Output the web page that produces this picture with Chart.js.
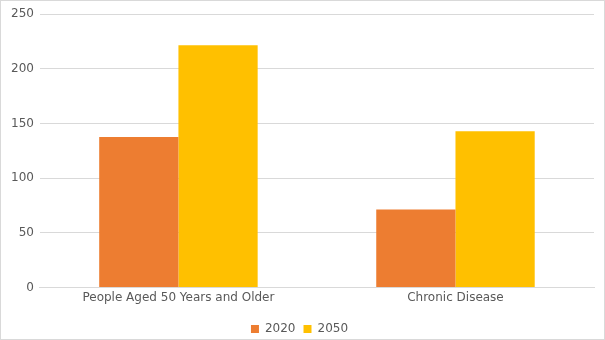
<!DOCTYPE html>
<html>
<head>
<meta charset="utf-8">
<script src="https://cdn.jsdelivr.net/npm/chart.js@4"></script>
<style>
html,body{margin:0;padding:0;background:#fff;}
#wrap{width:605px;height:340px;box-sizing:border-box;border:1px solid #d9d9d9;position:relative;}
</style>
</head>
<body>
<div id="wrap"><canvas id="c"></canvas></div>
<script>
const categories = ["People Aged 50 Years and Older", "Chronic Disease"];
const series2020 = [137.6, 71.4];
const series2050 = [221.6, 142.9];
const yTicks = [0, 50, 100, 150, 200, 250];

Chart.defaults.font.family = "'DejaVu Sans', sans-serif";
Chart.defaults.color = "#595959";

new Chart(document.getElementById('c'), {
  type: 'bar',
  data: {
    labels: categories,
    datasets: [
      {label: '2020', data: series2020, backgroundColor: '#ED7D31', categoryPercentage: 0.572, barPercentage: 1},
      {label: '2050', data: series2050, backgroundColor: '#FFC000', categoryPercentage: 0.572, barPercentage: 1}
    ]
  },
  options: {
    responsive: true,
    maintainAspectRatio: false,
    animation: false,
    layout: {padding: {left: 4, right: 10, top: 8, bottom: -6}},
    plugins: {
      legend: {
        position: 'bottom',
        labels: {boxWidth: 8, boxHeight: 8, padding: 8, font: {size: 12}, color: '#595959'}
      },
      tooltip: {enabled: false}
    },
    scales: {
      x: {
        grid: {display: false, drawTicks: false},
        border: {display: true, color: '#d9d9d9'},
        ticks: {font: {size: 12}, color: '#595959', padding: 3},
        afterFit: (s) => { s.height += 7; }
      },
      y: {
        min: 0, max: 250,
        afterBuildTicks: (ax) => { ax.ticks = yTicks.map(v => ({value: v})); },
        grid: {color: '#d9d9d9', drawTicks: false},
        border: {display: false},
        ticks: {font: {size: 12}, color: '#595959', padding: 6}
      }
    }
  }
});
</script>
</body>
</html>
